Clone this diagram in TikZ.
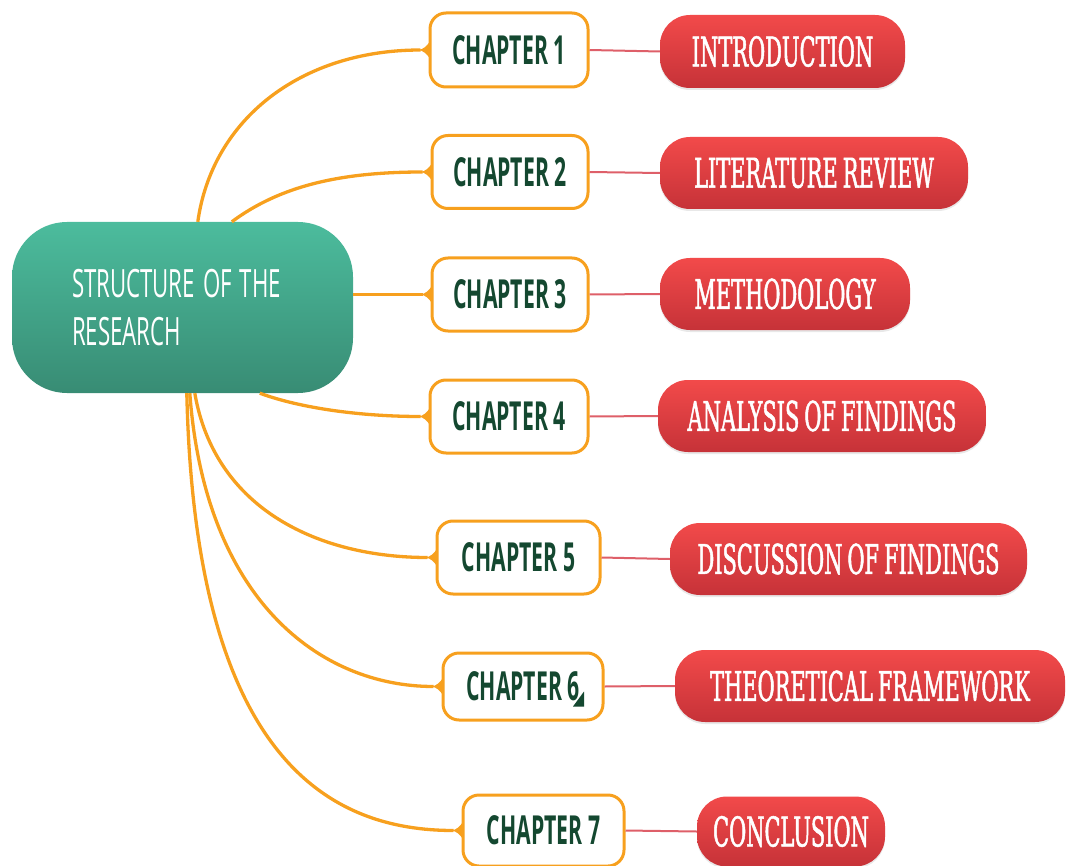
\documentclass[tikz,border=0pt]{standalone}
\usepackage{fontspec}
\usetikzlibrary{shadows}
\newfontfamily\chapfont[FakeStretch=0.53]{Open Sans}
\newfontfamily\topicfont[FakeStretch=0.51,WordSpace=0.75,FakeBold=1.2]{DejaVu Serif}
\newfontfamily\rootfont[FakeStretch=0.57]{Open Sans}
\definecolor{branch}{RGB}{247,160,30}
\definecolor{chaptext}{RGB}{20,72,48}
\definecolor{redtop}{RGB}{242,74,74}
\definecolor{redbot}{RGB}{198,50,56}
\definecolor{redline}{RGB}{222,95,105}
\definecolor{greentop}{RGB}{76,188,157}
\definecolor{greenbot}{RGB}{56,140,116}
\begin{document}
\begin{tikzpicture}[x=1pt,y=-1pt,
  rootbox/.style={rounded corners=55pt, top color=greentop, bottom color=greenbot,
    draw=none, inner sep=0pt, minimum width=341pt, minimum height=171pt,
    text width=221pt, align=left, text=white,
    font=\rootfont\fontsize{39}{48}\selectfont},
  chapbox/.style={draw=branch, line width=3pt, fill=white, rounded corners=16pt,
    inner sep=0pt, text=chaptext, font=\chapfont\bfseries\fontsize{40}{46}\selectfont},
  topicbox/.style={rounded corners=30pt, top color=redtop, bottom color=redbot,
    draw=none, inner sep=0pt, minimum height=72pt, text=white,
    drop shadow={opacity=0.18, shadow xshift=0pt, shadow yshift=-2pt},
    font=\topicfont\fontsize{41}{46}\selectfont},
  branchline/.style={draw=branch, line width=3.3pt},
  topicline/.style={draw=redline, line width=2pt},
]
\useasboundingbox (0,0) rectangle (1067,866);

% root
\node[rootbox] (root) at (182.5,307.5) {\spaceskip=8pt\relax STRUCTURE OF THE\\RESEARCH};

% chapters
\node[chapbox, minimum width=158pt, minimum height=74pt] (c1) at (509,50) {CHAPTER 1};
\node[chapbox, minimum width=156pt, minimum height=73pt] (c2) at (510,172) {CHAPTER 2};
\node[chapbox, minimum width=156pt, minimum height=73pt] (c3) at (510,294.5) {CHAPTER 3};
\node[chapbox, minimum width=158pt, minimum height=73pt] (c4) at (509,416.5) {CHAPTER 4};
\node[chapbox, minimum width=163pt, minimum height=73pt] (c5) at (518.5,557.5) {CHAPTER 5};
\node[chapbox, minimum width=160pt, minimum height=67pt] (c6) at (523,686.5) {CHAPTER 6\hspace{11pt}};
\node[chapbox, minimum width=161pt, minimum height=71pt] (c7) at (543.5,830.5) {CHAPTER 7};

% note marker next to chapter 6
\fill[chaptext] ([shift={(50,20)}]c6.center) -- ++(11,0) -- ++(0,-15) -- cycle;

% topics
\node[topicbox, minimum width=245pt, minimum height=73pt] (t1) at (782.5,51.5) {INTRODUCTION};
\node[topicbox, minimum width=308pt] (t2) at (814,173) {LITERATURE REVIEW};
\node[topicbox, minimum width=250pt] (t3) at (785,294) {METHODOLOGY};
\node[topicbox, minimum width=328pt] (t4) at (822,416) {ANALYSIS OF FINDINGS};
\node[topicbox, minimum width=357pt] (t5) at (848.5,559) {DISCUSSION OF FINDINGS};
\node[topicbox, minimum width=390pt] (t6) at (870,686) {THEORETICAL FRAMEWORK};
\node[topicbox, minimum width=188pt, minimum height=70pt] (t7) at (791,831.5) {CONCLUSION};

% branches from the root to each chapter
\draw[branchline] ([xshift=186pt]root.north west) .. controls (212,120) and (300,50) .. ([xshift=-8pt]c1.west);
\draw[branchline] ([xshift=220pt]root.north west) .. controls (280,186) and (340,172) .. ([xshift=-8pt]c2.west);
\draw[branchline] (root.east |- c3.west) -- ([xshift=-8pt]c3.west);
\draw[branchline] ([xshift=248pt]root.south west) .. controls (300,408) and (360,416.5) .. ([xshift=-8pt]c4.west);
\draw[branchline] ([xshift=183pt]root.south west) .. controls (215,510) and (320,557.5) .. ([xshift=-8pt]c5.west);
\draw[branchline] ([xshift=178pt]root.south west) .. controls (205,600) and (320,686.5) .. ([xshift=-8pt]c6.west);
\draw[branchline] ([xshift=175pt]root.south west) .. controls (195,760) and (330,830.5) .. ([xshift=-8pt]c7.west);

% flared joints where branches meet the chapter boxes
\foreach \c in {c1,c2,c3,c4,c5,c6,c7}{
  \fill[branch] (\c.west) ++(-11,0) .. controls ++(6,0) and ++(-2,3) .. ++(12,-8) -- ++(0,16) .. controls ++(-2,-3) and ++(6,0) .. ++(-12,-8) -- cycle;
}

% links from chapters to topics
\foreach \i in {1,...,7}{
  \draw[topicline] (c\i.east) -- (t\i.west);
}
\end{tikzpicture}
\end{document}
